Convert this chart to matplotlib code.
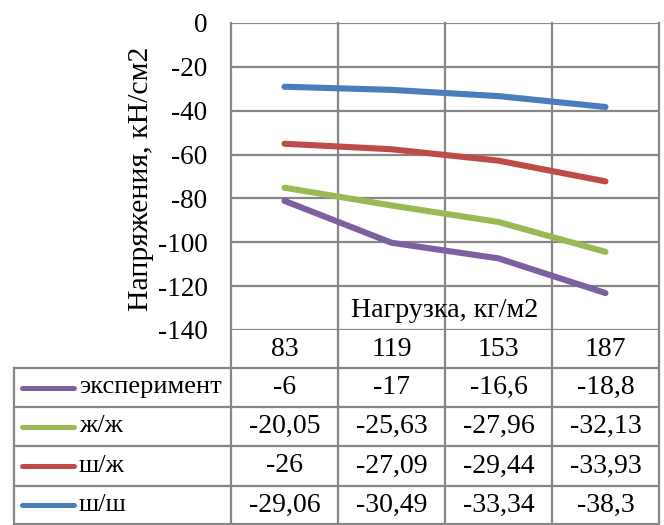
import matplotlib
matplotlib.use("Agg")
import matplotlib.pyplot as plt
import numpy as np

# Load values, kg/m2
loads = ["83", "119", "153", "187"]

# Stress per series, kN/cm2 (table rows, top to bottom)
series_names = ["эксперимент", "ж/ж", "ш/ж", "ш/ш"]
experiment = [-6, -17, -16.6, -18.8]
zh_zh = [-20.05, -25.63, -27.96, -32.13]
sh_zh = [-26, -27.09, -29.44, -33.93]
sh_sh = [-29.06, -30.49, -33.34, -38.3]
table_text = [
    ["-6", "-17", "-16,6", "-18,8"],
    ["-20,05", "-25,63", "-27,96", "-32,13"],
    ["-26", "-27,09", "-29,44", "-33,93"],
    ["-29,06", "-30,49", "-33,34", "-38,3"],
]
colors = ["#7D60A0", "#98B954", "#BE4B48", "#4A7EBB"]

y_ticks = [0, -20, -40, -60, -80, -100, -120, -140]

W, H = 664, 525
plt.rcParams["font.family"] = ["Liberation Serif", "DejaVu Serif"]
FS = 19
FS_NUM = 20
grid_c = "#878787"
grid_w = 1.6

fig = plt.figure(figsize=(W / 100, H / 100), dpi=100)

# pixel-coordinate overlay for the data table
ov = fig.add_axes([0, 0, 1, 1], zorder=0)
ov.set_xlim(0, W)
ov.set_ylim(H, 0)
ov.axis("off")

L, R, T, B = 231, 659, 23, 330
ax = fig.add_axes([L / W, 1 - B / H, (R - L) / W, (B - T) / H], zorder=1)
ax.patch.set_alpha(0)
ax.set_xlim(0, len(loads))
ax.set_ylim(-140, 0)
ax.set_yticks(y_ticks)
ax.set_yticklabels([str(v) for v in y_ticks], fontsize=19.6)
ax.set_xticks([])
ax.tick_params(axis="y", length=0, pad=17)
for s in ax.spines.values():
    s.set_visible(False)
for v in y_ticks:
    ax.axhline(v, color=grid_c, lw=grid_w, zorder=1)

# stacked lines: each series sits on top of those listed after it
rows = [experiment, zh_zh, sh_zh, sh_sh]
xs = np.arange(len(loads)) + 0.5
cum = np.zeros(len(loads))
stacked = []
for vals in reversed(rows):
    cum = cum + np.array(vals)
    stacked.append(cum.copy())
stacked = stacked[::-1]
for ys, c in zip(stacked, colors):
    ax.plot(xs, ys, color=c, lw=4.4, solid_capstyle="round",
            solid_joinstyle="round", zorder=3)

ov.text(141, 179, "Напряжения, кН/см2", rotation=90, ha="center",
        va="center", fontsize=21.5)
ax.text(len(loads) / 2, -131, "Нагрузка, кг/м2", ha="center", va="center",
        fontsize=20.2, zorder=4)

# table grid
col_x = [L + (R - L) * i / len(loads) for i in range(len(loads) + 1)]
row_y = [368, 407, 446, 486, 524]
left_x = 14
for x in col_x:
    ov.plot([x, x], [T, H], color=grid_c, lw=grid_w)
ov.plot([left_x, left_x], [row_y[0], row_y[-1]], color=grid_c, lw=grid_w)
for y in row_y:
    ov.plot([left_x, R], [y, y], color=grid_c, lw=grid_w)

# header: load values
for i, lab in enumerate(loads):
    ov.text((col_x[i] + col_x[i + 1]) / 2, (B + row_y[0]) / 2 + 1, lab,
            ha="center", va="center", fontsize=FS_NUM)

# body rows with legend keys
for r, (name, c) in enumerate(zip(series_names, colors)):
    yc = (row_y[r] + row_y[r + 1]) / 2
    ov.plot([22, 74], [yc, yc], color=c, lw=3.6, solid_capstyle="round")
    ov.text(79, yc, name, ha="left", va="center", fontsize=FS)
    for i in range(len(loads)):
        ov.text((col_x[i] + col_x[i + 1]) / 2, yc, table_text[r][i],
                ha="center", va="center", fontsize=FS_NUM)

fig.savefig("out.png", dpi=100)
